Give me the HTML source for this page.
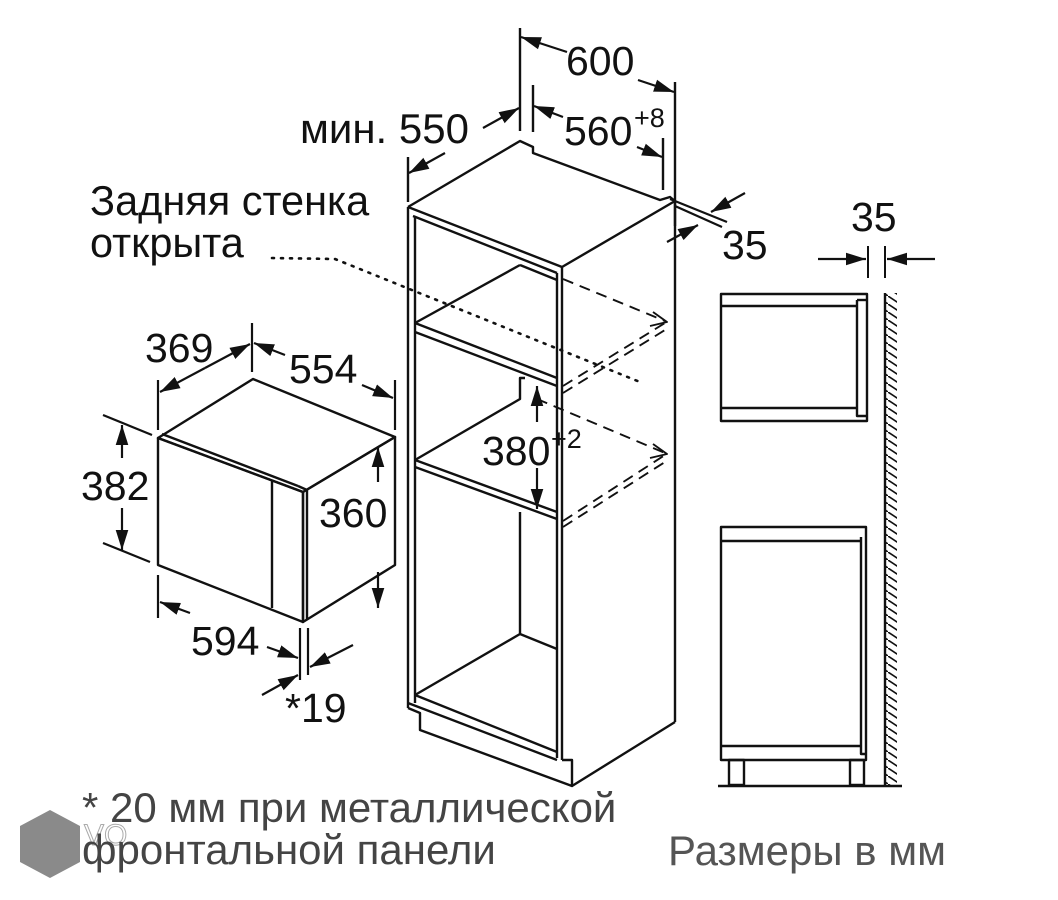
<!DOCTYPE html>
<html><head><meta charset="utf-8"><style>
html,body{margin:0;padding:0;background:#fff}
svg{display:block}
text{font-family:"Liberation Sans",sans-serif;fill:#111}
</style></head><body>
<svg width="1058" height="900" viewBox="0 0 1058 900" xmlns="http://www.w3.org/2000/svg">
<defs>
<marker id="b" viewBox="0 0 10 10" refX="10" refY="5" markerWidth="20" markerHeight="14" markerUnits="userSpaceOnUse" orient="auto" preserveAspectRatio="none"><path d="M0,0.5 L10,5 L0,9.5 z" fill="#111"/></marker>
<pattern id="h" width="12" height="8" patternUnits="userSpaceOnUse"><path d="M0,0 L12,8" stroke="#111" stroke-width="1.6"/></pattern>
</defs>
<g fill="none" stroke="#111" stroke-width="2.4" stroke-linejoin="round">
<!-- cabinet -->
<polyline points="408,207 520,141 533,147 533,153 660,200 670,197 675,201 562,267"/>
<line x1="408" y1="207" x2="562" y2="267"/>
<line x1="413" y1="216" x2="557" y2="273"/>
<line x1="408" y1="207" x2="408" y2="708"/>
<line x1="415" y1="216" x2="415" y2="703"/>
<line x1="557" y1="273" x2="557" y2="758"/>
<line x1="562" y1="267" x2="562" y2="760"/>
<line x1="675" y1="201" x2="675" y2="722"/>
<polyline points="408,708 420,713 420,730 572,786 572,760 562,760"/>
<line x1="572" y1="786" x2="675" y2="722"/>
<line x1="415" y1="323" x2="557" y2="378"/><line x1="415" y1="332" x2="557" y2="386"/>
<line x1="415" y1="460" x2="557" y2="512"/><line x1="415" y1="467" x2="557" y2="519"/>
<line x1="415" y1="695" x2="557" y2="752"/><line x1="408" y1="703" x2="557" y2="760"/>
<line x1="415" y1="323" x2="520" y2="265"/><line x1="520" y1="265" x2="557" y2="280"/>
<polyline points="415,460 520,399 520,378 525,378"/>
<polyline points="520,512 520,634 415,695"/><line x1="520" y1="634" x2="557" y2="649"/>
<g stroke-width="1.9" stroke-dasharray="11,7">
<line x1="563" y1="279" x2="665" y2="321"/>
<line x1="563" y1="386" x2="665" y2="323"/>
<line x1="563" y1="393" x2="665" y2="330"/>
<line x1="537" y1="399" x2="665" y2="453"/>
<line x1="563" y1="521" x2="665" y2="455"/>
<line x1="563" y1="527" x2="665" y2="462"/>
</g>
<path d="M653,312 L667,322 L650,326 M653,444 L667,454 L650,458" stroke-width="1.9"/>
<polyline points="272,258 335,259 640,382" stroke-width="2.6" stroke-dasharray="2,7" stroke-linecap="round"/>
<!-- top dims -->
<line x1="520" y1="28" x2="520" y2="131"/>
<line x1="533" y1="85" x2="533" y2="132"/>
<line x1="675" y1="82" x2="675" y2="226"/>
<line x1="663" y1="138" x2="663" y2="190"/>
<line x1="408" y1="157" x2="408" y2="202"/>
<g stroke-width="2.2">
<line x1="567" y1="52" x2="521" y2="37" marker-end="url(#b)"/>
<line x1="638" y1="80" x2="674" y2="92" marker-end="url(#b)"/>
<line x1="563" y1="117" x2="534" y2="106" marker-end="url(#b)"/>
<line x1="637" y1="147" x2="662" y2="157" marker-end="url(#b)"/>
<line x1="445" y1="153" x2="409" y2="173" marker-end="url(#b)"/>
<line x1="483" y1="128" x2="519" y2="108" marker-end="url(#b)"/>
<line x1="670" y1="199" x2="727" y2="222"/>
<line x1="675" y1="206" x2="722" y2="227"/>
<line x1="745" y1="193" x2="711" y2="212" marker-end="url(#b)"/>
<line x1="667" y1="242" x2="698" y2="225" marker-end="url(#b)"/>
</g>
<!-- microwave -->
<polygon points="158,438 253,379 395,437 303,492"/>
<polygon points="158,438 303,492 303,622 158,565"/>
<polygon points="303,492 395,437 395,565 303,622"/>
<line x1="162" y1="434" x2="298" y2="486"/>
<line x1="272" y1="480" x2="272" y2="608"/>
<line x1="307" y1="490" x2="307" y2="620"/>
<line x1="298" y1="486" x2="307" y2="490"/>
<g stroke-width="2.2">
<line x1="158" y1="380" x2="158" y2="430"/>
<line x1="252" y1="323" x2="252" y2="372"/>
<line x1="395" y1="380" x2="395" y2="430"/>
<line x1="205" y1="368" x2="160" y2="392" marker-end="url(#b)"/>
<line x1="205" y1="368" x2="250" y2="344" marker-end="url(#b)"/>
<line x1="285" y1="355" x2="254" y2="343" marker-end="url(#b)"/>
<line x1="362" y1="385" x2="393" y2="398" marker-end="url(#b)"/>
<line x1="103" y1="415" x2="152" y2="435"/>
<line x1="103" y1="543" x2="150" y2="562"/>
<line x1="122" y1="458" x2="122" y2="425" marker-end="url(#b)"/>
<line x1="122" y1="508" x2="122" y2="550" marker-end="url(#b)"/>
<line x1="378" y1="482" x2="378" y2="447" marker-end="url(#b)"/>
<line x1="378" y1="572" x2="378" y2="608" marker-end="url(#b)"/>
<line x1="158" y1="575" x2="158" y2="618"/>
<line x1="190" y1="613" x2="160" y2="602" marker-end="url(#b)"/>
<line x1="267" y1="647" x2="298" y2="658" marker-end="url(#b)"/>
<line x1="300" y1="628" x2="300" y2="680"/>
<line x1="308" y1="628" x2="308" y2="675"/>
<line x1="353" y1="645" x2="310" y2="667" marker-end="url(#b)"/>
<line x1="262" y1="695" x2="298" y2="675" marker-end="url(#b)"/>
<line x1="537" y1="422" x2="537" y2="386" marker-end="url(#b)"/>
<line x1="537" y1="468" x2="537" y2="509" marker-end="url(#b)"/>
</g>
<!-- side view -->
<rect x="721" y="294" width="146" height="127"/>
<line x1="721" y1="306" x2="857" y2="306"/>
<line x1="721" y1="408" x2="857" y2="408"/>
<polyline points="857,300 857,416 866,416"/>
<line x1="857" y1="300" x2="866" y2="300"/>
<rect x="721" y="527" width="145" height="233"/>
<line x1="721" y1="541" x2="861" y2="541"/>
<line x1="721" y1="746" x2="861" y2="746"/>
<polyline points="861,537 861,754 866,754"/>
<rect x="729" y="760" width="15" height="25"/>
<rect x="850" y="760" width="14" height="25"/>
<line x1="718" y1="786" x2="902" y2="786"/>
<rect x="885" y="293" width="12" height="493" fill="url(#h)" stroke="none"/>
<line x1="885" y1="293" x2="885" y2="786"/>
<line x1="868" y1="246" x2="868" y2="278" stroke-width="2"/>
<line x1="885" y1="246" x2="885" y2="278" stroke-width="2"/>
<line x1="818" y1="259" x2="866" y2="259" stroke-width="2.2" marker-end="url(#b)"/>
<line x1="935" y1="259" x2="887" y2="259" stroke-width="2.2" marker-end="url(#b)"/>
</g>
<!-- texts -->
<g font-size="41">
<text x="566" y="75">600</text>
<text x="300" y="143" font-size="42">мин. 550</text>
<text x="564" y="145">560</text><text x="634" y="127" font-size="27">+8</text>
<text x="722" y="259">35</text>
<text x="851" y="231">35</text>
<text x="90" y="215" font-size="41.5">Задняя стенка</text>
<text x="90" y="257" font-size="41.5">открыта</text>
<text x="145" y="362">369</text>
<text x="289" y="383">554</text>
<text x="81" y="500">382</text>
<text x="319" y="527">360</text>
<text x="482" y="465">380</text><text x="551" y="448" font-size="27">+2</text>
<text x="191" y="655">594</text>
<text x="285" y="722">*19</text>
</g>
<polygon points="50,810 80,826 80,862 50,878 20,862 20,826" fill="#8a8a8a"/>
<text x="84" y="845" font-size="30" style="fill:#fff;stroke:#aaa;stroke-width:1">VO</text>
<text x="82" y="822" font-size="42" style="fill:#444">* 20 мм при металлической</text>
<text x="82" y="864" font-size="42" style="fill:#444">фронтальной панели</text>
<text x="668" y="865" font-size="42" style="fill:#555">Размеры в мм</text>
</svg>
</body></html>
